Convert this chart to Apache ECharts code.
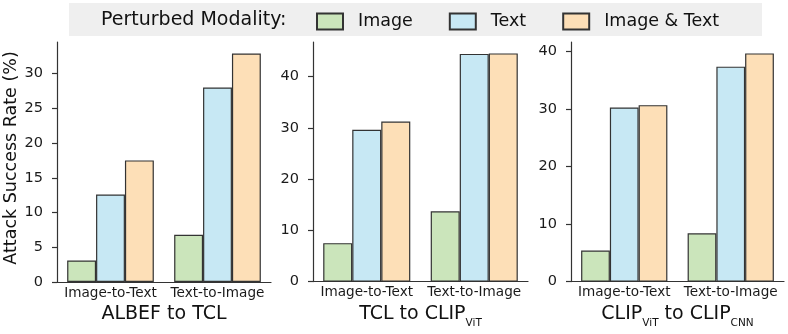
<!DOCTYPE html>
<html>
<head>
<meta charset="utf-8">
<script src="https://cdn.jsdelivr.net/npm/echarts@6/dist/echarts.min.js"></script>
<style>
  html, body { margin: 0; padding: 0; background: #fff; }
  #main { width: 788px; height: 334px; }
</style>
</head>
<body>
<div id="main"></div>
<script>
// data
var modalities = ['Image', 'Text', 'Image & Text'];
var tasks = ['Image-to-Text', 'Text-to-Image'];
var panelTitles = ['{m|ALBEF to TCL}', '{m|TCL to CLIP}{s|ViT}', '{m|CLIP}{s|ViT}{m| to CLIP}{s|CNN}'];
// one row per modality, one column per task
var albefToTcl = [[3.1, 6.8], [12.6, 28.0], [17.5, 32.9]];
var tclToClipVit = [[7.5, 13.7], [29.6, 44.4], [31.2, 44.5]];
var clipVitToClipCnn = [[5.4, 8.4], [30.3, 37.4], [30.7, 39.7]];
var yTicks1 = [0, 5, 10, 15, 20, 25, 30];
var yTicks2 = [0, 10, 20, 30, 40];
var yTicks3 = [0, 10, 20, 30, 40];

var panels = [albefToTcl, tclToClipVit, clipVitToClipCnn];
var yTicks = [yTicks1, yTicks2, yTicks3];
var colors = ['#cbe5bb', '#c7e8f4', '#fddfb7'];
var FONT = 'DejaVu Sans';
var grids = [
  { left: 57, width: 214 },
  { left: 313, width: 215 },
  { left: 571, width: 213 }
];

var myChart = echarts.init(document.getElementById('main'));

var gridOpt = [], xAxisOpt = [], yAxisOpt = [], seriesOpt = [];
panels.forEach(function (panel, i) {
  var flat = [].concat.apply([], panel);
  gridOpt.push({ left: grids[i].left, width: grids[i].width, top: 42, height: 240 });
  xAxisOpt.push({
    type: 'category',
    gridIndex: i,
    data: tasks,
    axisLine: { lineStyle: { color: '#333', width: 1.2 } },
    axisTick: { show: false },
    axisLabel: { interval: 0, margin: 4, fontFamily: FONT, fontSize: 13.6, color: '#1a1a1a' },
    name: panelTitles[i],
    nameLocation: 'middle',
    nameGap: 7,
    nameTextStyle: {
      rich: {
        m: { fontFamily: FONT, fontSize: 19, lineHeight: 30, color: '#111' },
        s: { fontFamily: FONT, fontSize: 10.5, lineHeight: 11, verticalAlign: 'bottom', color: '#111' }
      }
    }
  });
  yAxisOpt.push({
    type: 'value',
    gridIndex: i,
    min: 0,
    max: Math.max.apply(null, flat) * 1.05,
    axisLine: { show: true, lineStyle: { color: '#333', width: 1.2 } },
    axisTick: { show: true, length: 5, customValues: yTicks[i], lineStyle: { color: '#333', width: 1.2 } },
    axisLabel: { customValues: yTicks[i], margin: 14, fontFamily: FONT, fontSize: 14.5, color: '#1a1a1a' },
    splitLine: { show: false },
    name: i === 0 ? 'Attack Success Rate (%)' : '',
    nameLocation: 'middle',
    nameGap: 34,
    nameTextStyle: { fontFamily: FONT, fontSize: 17.5, color: '#111', padding: [0, 0, 0, 8] }
  });
  modalities.forEach(function (m, k) {
    seriesOpt.push({
      name: m,
      type: 'bar',
      xAxisIndex: i,
      yAxisIndex: i,
      data: panel[k],
      barGap: '0%',
      barCategoryGap: '19%',
      itemStyle: { color: colors[k], borderColor: '#333', borderWidth: 1.2 }
    });
  });
});

myChart.setOption({
  animation: false,
  graphic: [
    { type: 'rect', shape: { x: 69, y: 3, width: 693, height: 33 }, style: { fill: '#efefef' }, z: 0 },
    { type: 'text', x: 101, y: 20.5, z: 1,
      style: { text: 'Perturbed Modality:', fontFamily: FONT, fontSize: 19, fill: '#111', verticalAlign: 'middle' } }
  ],
  legend: {
    data: modalities,
    left: 316,
    top: 12.5,
    padding: 0,
    itemWidth: 26,
    itemHeight: 16,
    itemGap: 36,
    icon: 'rect',
    textStyle: { fontFamily: FONT, fontSize: 17.5, color: '#111', padding: [0, 0, 0, 10] }
  },
  grid: gridOpt,
  xAxis: xAxisOpt,
  yAxis: yAxisOpt,
  series: seriesOpt
});
</script>
</body>
</html>
